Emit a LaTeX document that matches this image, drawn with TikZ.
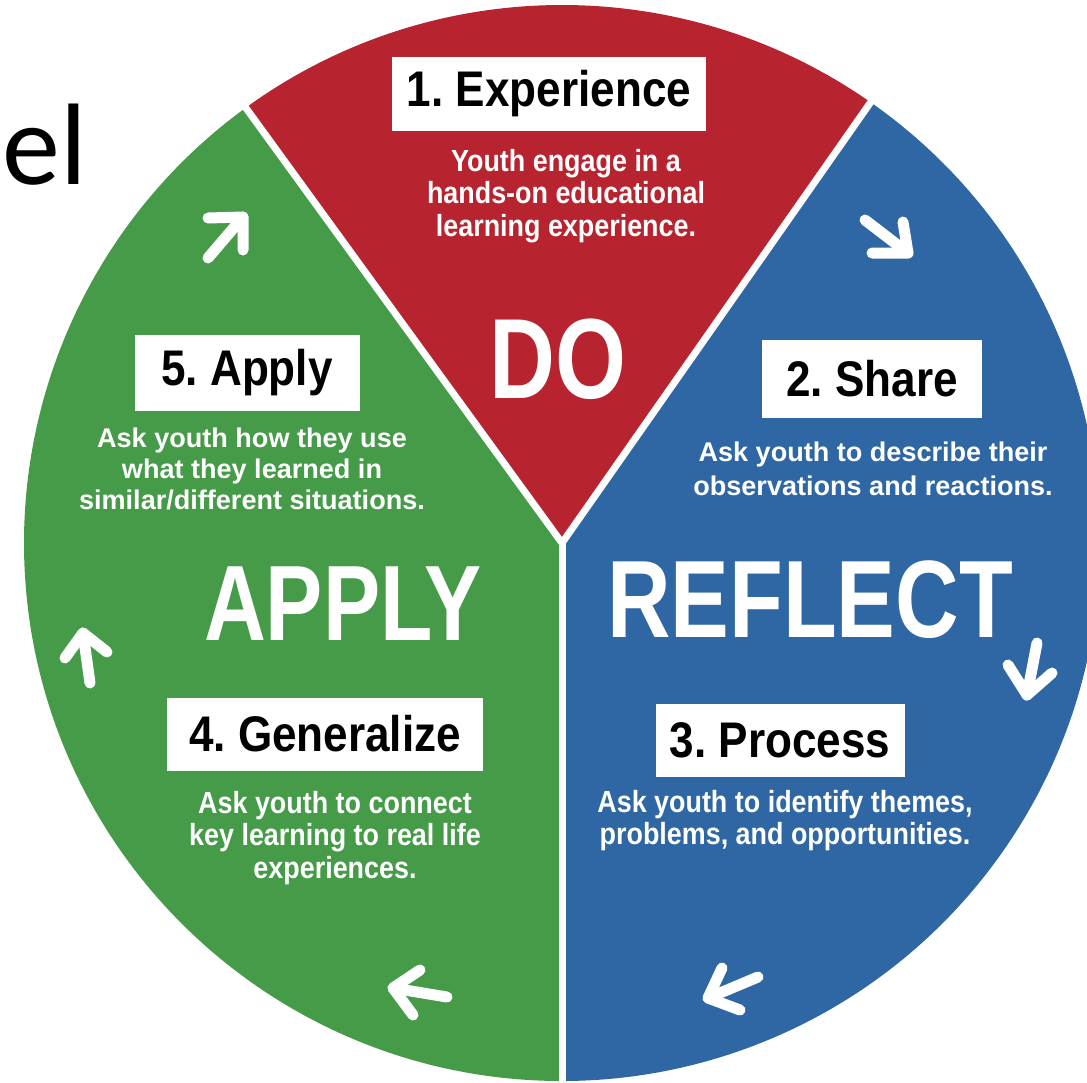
\documentclass[tikz,border=0pt]{standalone}
\usepackage{fontspec}
\usepackage{tikz}
\usetikzlibrary{positioning}

\newfontfamily\headfont[FakeStretch=0.88]{Liberation Sans}
\newfontfamily\bigfont[FakeStretch=0.8]{Liberation Sans}
\newfontfamily\bodyfont{Liberation Sans}
\newfontfamily\modelfont{Carlito}

\definecolor{doRed}{RGB}{183,35,46}
\definecolor{reflectBlue}{RGB}{46,103,163}
\definecolor{applyGreen}{RGB}{70,155,72}

\newdimen\pxl \pxl=0.02cm
\frenchspacing

\begin{document}
\begin{tikzpicture}[x=0.02cm,y=-0.02cm,
    headbox/.style={fill=white,text=black,inner sep=0pt,font=\headfont\bfseries\fontsize{28.5}{30}\selectfont},
    condbody/.style={text=white,align=center,inner sep=0pt,font=\headfont\bfseries\fontsize{17.4}{18.5}\selectfont},
    widebody/.style={text=white,align=center,inner sep=0pt,font=\bodyfont\bfseries\fontsize{15.4}{17.8}\selectfont},
    bigword/.style={text=white,inner sep=0pt,font=\bigfont\bfseries},
    cyclearrow/.style={draw=white,line width=11\pxl,line cap=round,line join=round}]

    \clip (0,0) rectangle (1087,1082);
    \useasboundingbox (0,0) rectangle (1087,1082);

    \coordinate (hub) at (562,543);

    % the three phases
    \fill [doRed]       (hub) -- ++(-55:538) arc [start angle=-55, end angle=-126, radius=538] -- cycle;
    \fill [reflectBlue] (hub) -- ++(-55:538) arc [start angle=-55, end angle=90, radius=538] -- cycle;
    \fill [applyGreen]  (hub) -- ++(90:538) arc [start angle=90, end angle=234, radius=538] -- cycle;

    \draw [white,line width=7\pxl] (hub) -- ++(-55:560);
    \draw [white,line width=7\pxl] (hub) -- ++(-126:560);
    \draw [white,line width=7\pxl] (hub) -- ++(90:560);

    \node (model) [anchor=base west,inner sep=0pt,font=\modelfont\fontsize{66}{70}\selectfont] at (2,184) {el};

    % step boxes
    \node (experience) [headbox,minimum width=314\pxl,minimum height=74\pxl] at (549,94) {1. Experience};
    \node (share)      [headbox,minimum width=220\pxl,minimum height=78\pxl] at (872,379) {2. Share};
    \node (process)    [headbox,minimum width=249\pxl,minimum height=73\pxl] at (780,740) {3. Process};
    \node (generalize) [headbox,minimum width=316\pxl,minimum height=73\pxl] at (325,734) {4. Generalize};
    \node (apply)      [headbox,minimum width=225\pxl,minimum height=76\pxl] at (247,373) {5. Apply};

    % step descriptions
    \node (experience-text) [condbody] at (566,196) {Youth engage in a\\hands-on educational\\learning experience.};
    \node (share-text)      [widebody,font=\bodyfont\bfseries\fontsize{15.4}{19.3}\selectfont] at (873,469) {Ask youth to describe their\\observations and reactions.};
    \node (process-text)    [condbody,font=\headfont\bfseries\fontsize{17.4}{18.2}\selectfont] at (785,821) {Ask youth to identify themes,\\problems, and opportunities.};
    \node (generalize-text) [condbody] at (335,838) {Ask youth to connect\\key learning to real life\\experiences.};
    \node (apply-text)      [widebody] at (252,469) {Ask youth how they use\\what they learned in\\similar/different situations.};

    % phase names
    \node (do)      [bigword,font=\bigfont\bfseries\fontsize{64.9}{70}\selectfont] at (558,359) {DO};
    \node (reflect) [bigword,font=\bigfont\bfseries\fontsize{62.6}{70}\selectfont] at (810,600) {REFLECT};
    \node (applyw)  [bigword,font=\bigfont\bfseries\fontsize{61}{66}\selectfont] at (343,604) {APPLY};

    % cycle arrows
    \draw [cyclearrow] (208,258) -- (243,217);
    \draw [cyclearrow] (208,218) -- (243,217) -- (243,250);
    \draw [cyclearrow] (865,220) -- (908,253);
    \draw [cyclearrow] (872,253) -- (908,253) -- (903,222);
    \draw [cyclearrow] (1037,643) -- (1027,695);
    \draw [cyclearrow] (1008,665) -- (1027,695) -- (1052,673);
    \draw [cyclearrow] (758,977) -- (708,998);
    \draw [cyclearrow] (722,968) -- (708,998) -- (740,1010);
    \draw [cyclearrow] (447,997) -- (393,988);
    \draw [cyclearrow] (420,970) -- (393,988) -- (413,1015);
    \draw [cyclearrow] (90,683) -- (83,633);
    \draw [cyclearrow] (65,658) -- (83,633) -- (107,652);

\end{tikzpicture}
\end{document}
